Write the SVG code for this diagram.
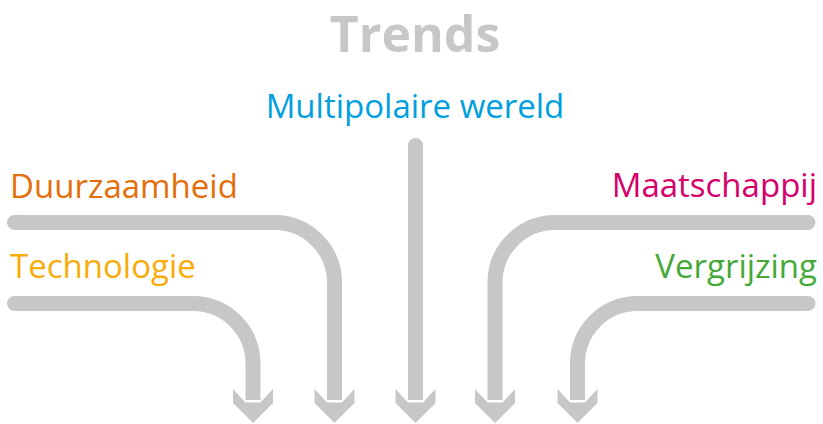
<svg xmlns="http://www.w3.org/2000/svg" width="823" height="424" viewBox="0 0 823 424">
<style>
.t{font-family:"Open Sans","Noto Sans","Liberation Sans",sans-serif;font-size:33px}
.c{fill:none;stroke:#C6C7C6;stroke-width:15;stroke-linecap:butt}
.h{fill:#C6C7C6}
</style>
<defs>
<polygon id="head" points="-7.5,402.5 -20,389 -20,403 0,423 20,403 20,389 7.5,402.5"/>
</defs>
<rect width="823" height="424" fill="#fff"/>
<g id="title"><text x="415" y="52" text-anchor="middle" style="font-family:'Open Sans','Noto Sans',sans-serif;font-weight:700;font-size:50px;fill:#C6C7C6">Trends</text></g>
<g id="multipolaire"><text class="t" x="415" y="118" text-anchor="middle" fill="#00A0DE">Multipolaire wereld</text></g>
<g id="duurzaamheid"><text class="t" x="10" y="198" fill="#E46F0A">Duurzaamheid</text></g>
<g id="technologie"><text class="t" x="10" y="278" fill="#F7AC0B">Technologie</text></g>
<g id="maatschappij"><text class="t" x="817" y="197" text-anchor="end" fill="#D5006A">Maatschappij</text></g>
<g id="vergrijzing"><text class="t" x="817" y="278" text-anchor="end" fill="#45A939">Vergrijzing</text></g>
<g id="connectors">
<path class="c" d="M14.5,303.5 H193 A60,60 0 0 1 253,363.5 V400"/>
<path class="c" d="M14.5,222.5 H274.5 A60,60 0 0 1 334.5,282.5 V400"/>
<path class="c" d="M415.5,145.5 V400"/>
<path class="c" d="M808,222.5 H555 A60,60 0 0 0 495,282.5 V400"/>
<path class="c" d="M808,303.5 H637.5 A60,60 0 0 0 577.5,363.5 V400"/>
<circle class="h" cx="14.5" cy="303.5" r="7.5"/>
<circle class="h" cx="14.5" cy="222.5" r="7.5"/>
<circle class="h" cx="415.5" cy="145.5" r="7.5"/>
<circle class="h" cx="808" cy="222.5" r="7.5"/>
<circle class="h" cx="808" cy="303.5" r="7.5"/>
<use href="#head" class="h" x="253"/>
<use href="#head" class="h" x="334.5"/>
<use href="#head" class="h" x="415.5"/>
<use href="#head" class="h" x="495"/>
<use href="#head" class="h" x="577.5"/>
</g>
</svg>
